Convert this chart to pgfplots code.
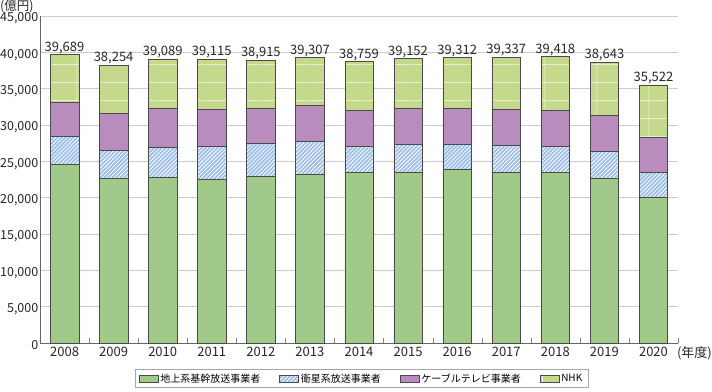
\documentclass[border=0pt]{standalone}
\usepackage{fontspec}
\setmainfont{Noto Sans CJK JP}
\usepackage{pgfplots}
\pgfplotsset{compat=1.18}
\usepackage{pgfplotstable}
\usetikzlibrary{patterns,patterns.meta}

\definecolor{cGreen}{HTML}{A0C98A}
\definecolor{cBlue}{HTML}{9DBFEA}
\definecolor{cPurple}{HTML}{B98CBE}
\definecolor{cNHK}{HTML}{C4D98C}
\definecolor{cEdge}{HTML}{4A4A4A}
\definecolor{cGrid}{HTML}{CCCCCC}

\pgfdeclarepattern{
  name=nhkgrid,
  type=uncolored,
  bottom left={\pgfpoint{0pt}{0pt}},
  top right={\pgfpoint{51.7pt}{17.6pt}},
  tile size={\pgfpoint{51.7pt}{17.6pt}},
  code={
    \pgfsetlinewidth{0.7pt}
    \pgfpathmoveto{\pgfpoint{25pt}{0pt}}
    \pgfpathlineto{\pgfpoint{25pt}{17.6pt}}
    \pgfpathmoveto{\pgfpoint{0pt}{8.8pt}}
    \pgfpathlineto{\pgfpoint{51.7pt}{8.8pt}}
    \pgfusepath{stroke}
  }
}

\pgfplotsset{
  boxlegend/.style={legend image code/.code={\draw[##1] (0pt,-3.5pt) rectangle (19pt,3.5pt);}},
  nhklegend/.style={legend image code/.code={\draw[fill=cNHK, draw=cEdge, line width=0.5pt] (0pt,-3.5pt) rectangle (19pt,3.5pt);}},
  mynumfmt/.style={/pgf/number format/fixed, /pgf/number format/precision=0,
    /pgf/number format/1000 sep={,}, /pgf/number format/assume math mode=true},
}

\pgfplotstableread{
x green blue purple nhk total
0  24590 3855 4677 6567 39689
1  22663 3854 5091 6646 38254
2  22801 4128 5408 6752 39089
3  22526 4491 5137 6961 39115
4  22934 4494 4909 6578 38915
5  23256 4497 4952 6602 39307
6  23438 3671 4954 6696 38759
7  23484 3855 4953 6860 39152
8  23852 3487 4953 7020 39312
9  23484 3717 5000 7136 39337
10 23438 3626 4999 7355 39418
11 22663 3712 4958 7310 38643
12 20045 3439 4864 7174 35522
}\data

\begin{document}
\begin{tikzpicture}
\useasboundingbox (0,0) rectangle (712pt,391pt);
\begin{axis}[
  at={(40pt,48pt)}, anchor=south west,
  scale only axis, width=638pt, height=327pt,
  ybar stacked, bar width=28.5pt,
  xmin=-0.5, xmax=12.5, ymin=0, ymax=45000,
  ytick={0,5000,...,45000},
  xtick={0,...,12},
  xticklabels={2008,2009,2010,2011,2012,2013,2014,2015,2016,2017,2018,2019,2020},
  minor xtick={-0.5,0.5,...,12.5},
  major tick style={draw=none},
  tick align=outside,
  major tick length=0pt,
  minor tick length=5pt,
  minor x tick style={yshift=5pt, draw=gray},
  axis x line*=bottom, axis y line*=left,
  axis line style={draw=gray!80!black, -},
  ymajorgrids, grid style={draw=cGrid, line width=0.9pt},
  scaled y ticks=false,
  mynumfmt,
  y tick label style={font=\fontsize{12.5}{14}\selectfont, inner xsep=1.5pt, yshift=-2.5pt},
  x tick label style={font=\fontsize{13}{15}\selectfont, yshift=-1pt},
  tick label style={text=black!85},
  legend columns=4,
  legend style={at={(0.504,-0.109)}, anchor=center, draw=gray!70,
    font=\fontsize{10}{12}\selectfont, inner xsep=4pt, inner ysep=2pt,
    /tikz/every even column/.append style={column sep=17pt}},
]
\addplot[fill=cGreen, draw=cEdge, line width=0.5pt, boxlegend]
  table[x=x,y=green]{\data};
\addlegendentry{地上系基幹放送事業者}
\addplot[fill=cBlue, draw=cEdge, line width=0.5pt,
  postaction={pattern={Lines[angle=45,distance=2.8pt,line width=0.8pt]}, pattern color=white},
  boxlegend]
  table[x=x,y=blue]{\data};
\addlegendentry{衛星系放送事業者}
\addplot[fill=cPurple, draw=cEdge, line width=0.5pt, boxlegend]
  table[x=x,y=purple]{\data};
\addlegendentry{ケーブルテレビ事業者}
\addplot[fill=cNHK, draw=cEdge, line width=0.5pt,
  postaction={pattern=nhkgrid, pattern color=white!90!cNHK}, nhklegend]
  table[x=x,y=nhk]{\data};
\addlegendentry{NHK}
\end{axis}
\begin{axis}[
  at={(40pt,48pt)}, anchor=south west,
  scale only axis, width=638pt, height=327pt,
  xmin=-0.5, xmax=12.5, ymin=0, ymax=45000,
  hide axis, mynumfmt,
]
\addplot[only marks, mark=none, nodes near coords, point meta=explicit,
  every node near coord/.append style={font=\fontsize{13}{15}\selectfont, inner sep=0.6pt, text=black!85, anchor=south}]
  table[x=x,y=total,meta=total]{\data};
\end{axis}
\node[anchor=north west, font=\fontsize{12.5}{14}\selectfont, text=black!85, inner sep=0pt] at (0pt,391pt) {(億円)};
\node[anchor=east, font=\fontsize{13}{15}\selectfont, text=black!85, inner sep=0pt] at (712pt,38pt) {(年度)};
\end{tikzpicture}
\end{document}
